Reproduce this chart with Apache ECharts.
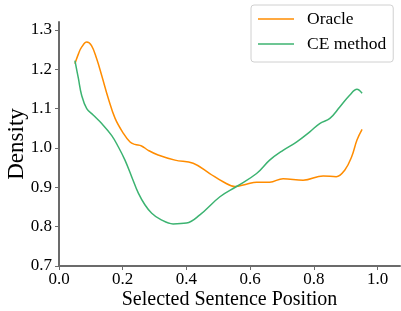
<!DOCTYPE html>
<html>
<head>
<meta charset="utf-8">
<script src="https://cdn.jsdelivr.net/npm/echarts@6/dist/echarts.min.js"></script>
<style>
  html, body { margin: 0; padding: 0; background: #fff; }
  #chart { width: 401px; height: 311px; }
</style>
</head>
<body>
<div id="chart"></div>
<script>
// values
var oracleX = [0.050, 0.061, 0.071, 0.087, 0.102, 0.118, 0.134, 0.155, 0.176, 0.202, 0.223, 0.238, 0.259, 0.280, 0.311, 0.364, 0.421, 0.473, 0.515, 0.552, 0.588, 0.620, 0.661, 0.703, 0.766, 0.829, 0.870, 0.897, 0.918, 0.935, 0.951];
var oracleY = [1.214, 1.239, 1.256, 1.269, 1.260, 1.227, 1.184, 1.125, 1.075, 1.037, 1.015, 1.009, 1.005, 0.994, 0.982, 0.969, 0.961, 0.935, 0.914, 0.902, 0.908, 0.913, 0.913, 0.922, 0.918, 0.929, 0.927, 0.944, 0.977, 1.020, 1.047];
var ceX = [0.050, 0.061, 0.071, 0.087, 0.108, 0.134, 0.165, 0.186, 0.207, 0.228, 0.249, 0.270, 0.291, 0.317, 0.358, 0.400, 0.442, 0.505, 0.557, 0.620, 0.661, 0.703, 0.745, 0.787, 0.818, 0.850, 0.881, 0.912, 0.935, 0.951];
var ceY = [1.222, 1.176, 1.134, 1.100, 1.083, 1.062, 1.032, 1.003, 0.969, 0.927, 0.885, 0.855, 0.834, 0.819, 0.807, 0.809, 0.830, 0.876, 0.902, 0.935, 0.969, 0.994, 1.015, 1.041, 1.062, 1.075, 1.104, 1.134, 1.149, 1.139];
var xTicks = [0, 0.2, 0.4, 0.6, 0.8, 1.0];
var yTicks = [0.7, 0.8, 0.9, 1.0, 1.1, 1.2, 1.3];

function pairs(xs, ys) {
  var out = [];
  for (var i = 0; i < xs.length; i++) out.push([xs[i], ys[i]]);
  return out;
}

var font = 'Liberation Serif';
var axisCol = '#6b6b6b';

var chart = echarts.init(document.getElementById('chart'));
chart.setOption({
  animation: false,
  textStyle: { fontFamily: font },
  grid: { left: 59, right: 1, top: 22, bottom: 45, outerBoundsMode: 'none', containLabel: false },
  legend: {
    left: 251, top: 5,
    orient: 'vertical',
    icon: 'rect',
    itemWidth: 36, itemHeight: 1.5,
    itemGap: 7,
    padding: [5, 7, 9, 7],
    borderColor: '#d0d0d0', borderWidth: 1, borderRadius: 3,
    backgroundColor: '#fff',
    textStyle: { fontFamily: font, fontSize: 17.5, color: '#000', padding: [0, 0, 0, 8] },
    data: ['Oracle', 'CE method']
  },
  xAxis: {
    type: 'value', min: 0, max: 1.07,
    name: 'Selected Sentence Position', nameLocation: 'middle', nameGap: 24, nameMoveOverlap: false,
    nameTextStyle: { fontFamily: font, fontSize: 20, color: '#000', verticalAlign: 'top' },
    axisLine: { lineStyle: { color: axisCol, width: 2 } },
    axisTick: { show: true, length: 4, lineStyle: { color: axisCol }, customValues: xTicks },
    axisLabel: { fontFamily: font, fontSize: 17, color: '#000', margin: 5, customValues: xTicks,
      formatter: function (v) { return v.toFixed(1); } },
    splitLine: { show: false }
  },
  yAxis: {
    type: 'value', min: 0.7, max: 1.32,
    name: 'Density', nameLocation: 'middle', nameGap: 31, nameMoveOverlap: false,
    nameTextStyle: { fontFamily: font, fontSize: 23, color: '#000' },
    axisLine: { show: true, lineStyle: { color: axisCol, width: 2 } },
    axisTick: { show: true, length: 4, lineStyle: { color: axisCol }, customValues: yTicks },
    axisLabel: { fontFamily: font, fontSize: 17, color: '#000', margin: 7, customValues: yTicks,
      formatter: function (v) { return v.toFixed(1); } },
    splitLine: { show: false }
  },
  series: [
    { name: 'Oracle', type: 'line', data: pairs(oracleX, oracleY), smooth: 0.4,
      showSymbol: false, lineStyle: { color: '#ff8c00', width: 1.5 }, itemStyle: { color: '#ff8c00' } },
    { name: 'CE method', type: 'line', data: pairs(ceX, ceY), smooth: 0.4,
      showSymbol: false, lineStyle: { color: '#3cb371', width: 1.5 }, itemStyle: { color: '#3cb371' } }
  ]
});
</script>
</body>
</html>
